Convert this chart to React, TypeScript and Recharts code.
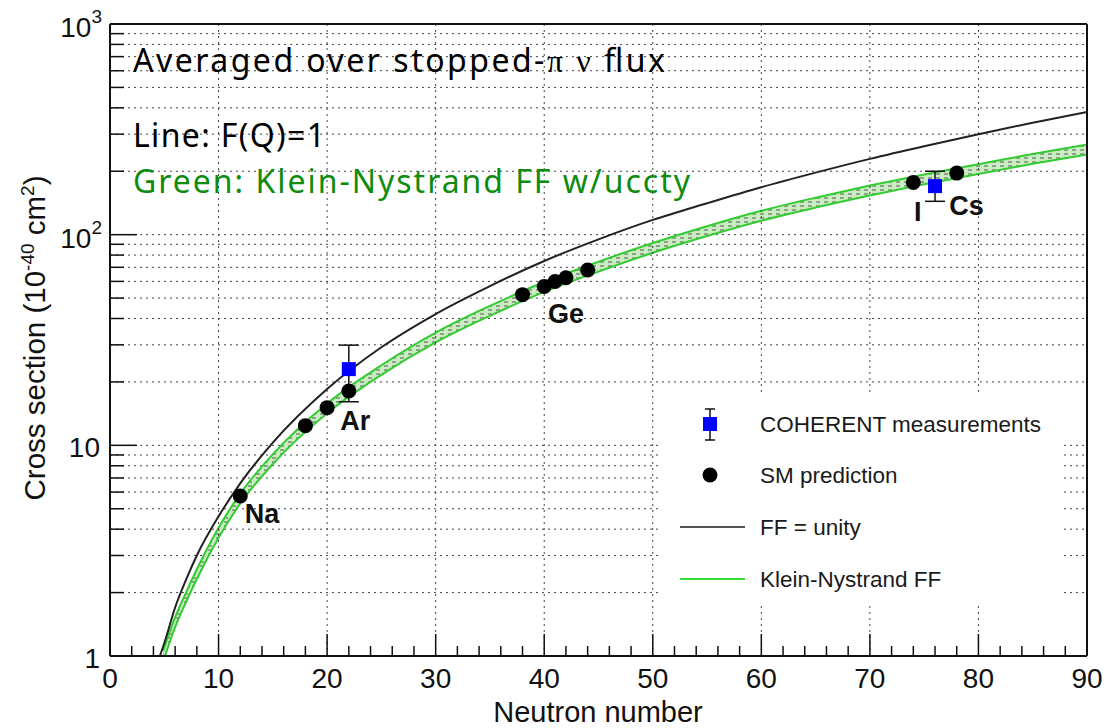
import React from 'react';
import {
  ComposedChart,
  Line,
  Area,
  Scatter,
  XAxis,
  YAxis,
  CartesianGrid,
  ReferenceLine,
  ReferenceDot,
  ErrorBar,
  Legend,
} from 'recharts';

// FF = unity curve (flux-averaged cross section, 10^-40 cm^2)
const N_UNITY = [4.6, 5, 6, 7, 8, 10, 12, 15, 20, 25, 30, 35, 40, 45, 50, 55, 60, 65, 70, 75, 80, 85, 90];
const XS_UNITY = [1.0, 1.15, 1.7, 2.3, 3.0, 4.6, 6.6, 10.3, 18.5, 29.2, 42, 57, 75, 95, 117.5, 141, 168, 197, 229, 263, 300, 340, 382];

// Klein-Nystrand FF band (lower / upper edge)
const N_KN = [4.9, 6, 7, 8, 10, 12, 15, 20, 25, 30, 35, 40, 45, 50, 55, 60, 65, 70, 75, 80, 85, 90];
const KN_LOW = [0.94, 1.37, 1.8, 2.32, 3.64, 5.3, 8.15, 14.2, 21.6, 30.8, 41.2, 53.5, 66.8, 82, 98.5, 116.5, 134.5, 153.5, 173.5, 194, 217, 240];
const KN_HIGH = [1.06, 1.53, 2.0, 2.58, 4.06, 5.9, 9.07, 15.8, 24.0, 34.3, 45.9, 59.6, 74.4, 91.3, 109.7, 129.8, 149.8, 171, 193, 216, 241.6, 268];

// SM predictions (Na, Ar isotopes, Ge isotopes, I, Cs)
const N_SM = [12, 18, 20, 22, 38, 40, 41, 42, 44, 74, 78];
const XS_SM = [5.75, 12.4, 15.1, 18.1, 51.9, 56.8, 59.9, 62.4, 68.0, 177, 196];

// COHERENT measurements (Ar, CsI)
const N_COH = [22, 76];
const XS_COH = [23.0, 170];
const COH_ERR_LO = [6.9, 26];
const COH_ERR_HI = [6.9, 30];

const X_MAJOR = [0, 10, 20, 30, 40, 50, 60, 70, 80, 90];
const X_TICKS = [0, 2, 4, 6, 8, 10, 12, 14, 16, 18, 20, 22, 24, 26, 28, 30, 32, 34, 36, 38, 40, 42, 44, 46, 48, 50, 52, 54, 56, 58, 60, 62, 64, 66, 68, 70, 72, 74, 76, 78, 80, 82, 84, 86, 88, 90];
const X_GRID = [10, 20, 30, 40, 50, 60, 70, 80];
const Y_MAJOR = [1, 10, 100, 1000];
const Y_MINOR_STEPS = [2, 3, 4, 5, 6, 7, 8, 9];
const Y_TICKS = [
  ...Y_MAJOR.slice(0, 3).flatMap((d) => [d, ...Y_MINOR_STEPS.map((m) => m * d)]),
  1000,
];

const LEGEND_LABELS = ['COHERENT measurements', 'SM prediction', 'FF = unity', 'Klein-Nystrand FF'];

const unityRows = N_UNITY.map((n, i) => ({ n, xs: XS_UNITY[i] }));
const bandRows = N_KN.map((n, i) => ({ n, band: [KN_LOW[i], KN_HIGH[i]] }));
const smRows = N_SM.map((n, i) => ({ n, xs: XS_SM[i] }));
const cohRows = N_COH.map((n, i) => ({ n, xs: XS_COH[i], err: [COH_ERR_LO[i], COH_ERR_HI[i]] }));

const AXIS_FONT = '"Liberation Sans", Arial, sans-serif';
const NOTE_FONT = '"Noto Sans", sans-serif';

const renderXTick = (props: any) => {
  const { x, y, payload } = props;
  const major = X_MAJOR.includes(payload.value);
  return (
    <g>
      <line x1={x} x2={x} y1={y} y2={y - (major ? 22 : 10)} stroke="#111" strokeWidth={1.5} />
      {major && (
        <text x={x} y={y + 32} textAnchor="middle" fontSize={28} fontFamily={AXIS_FONT} fill="#111">
          {payload.value}
        </text>
      )}
    </g>
  );
};

const renderYTick = (props: any) => {
  const { x, y, payload } = props;
  const v = payload.value;
  const major = Y_MAJOR.includes(v);
  let label = null;
  if (v === 1 || v === 10) {
    label = (
      <text x={x - 10} y={y + 12} textAnchor="end" fontSize={28} fontFamily={AXIS_FONT} fill="#111">
        {v}
      </text>
    );
  } else if (major) {
    label = (
      <text x={x - 8} y={y + 13} textAnchor="end" fontSize={28} fontFamily={AXIS_FONT} fill="#111">
        10<tspan dy={-14} fontSize={19}>{Math.round(Math.log10(v))}</tspan>
      </text>
    );
  }
  return (
    <g>
      <line x1={x} x2={x + (major ? 27 : 14)} y1={y} y2={y} stroke="#111" strokeWidth={1.5} />
      {label}
    </g>
  );
};

const renderLegend = () => (
  <svg width={401} height={210}>
    <line x1={48} x2={48} y1={14} y2={45} stroke="#111" strokeWidth={1.5} />
    <line x1={43} x2={53} y1={14} y2={14} stroke="#111" strokeWidth={1.5} />
    <line x1={43} x2={53} y1={45} y2={45} stroke="#111" strokeWidth={1.5} />
    <rect x={41} y={22} width={14} height={14} fill="#0000ff" />
    <circle cx={48} cy={80} r={7.5} fill="#000" />
    <line x1={18} x2={83} y1={132} y2={132} stroke="#555" strokeWidth={2} />
    <line x1={18} x2={83} y1={184} y2={184} stroke="#33dd33" strokeWidth={2} />
    {LEGEND_LABELS.map((t, i) => (
      <text key={t} x={98} y={[29, 80, 132, 184][i] + 8} fontSize={22.5} fontFamily={AXIS_FONT} fill="#1a1a1a">
        {t}
      </text>
    ))}
  </svg>
);

const elementLabel = (text: string) => (props: any) => (
  <text x={props.cx} y={props.cy} textAnchor="middle" fontSize={27} fontWeight="bold" fontFamily={AXIS_FONT} fill="#111">
    {text}
  </text>
);

export default function App() {
  return (
    <div style={{ position: 'absolute', left: 0, top: 0, width: 1112, height: 728, background: '#fff' }}>
      <ComposedChart width={1112} height={728} margin={{ top: 24, right: 25, bottom: 0, left: 0 }}>
        <defs>
          <pattern id="knHatch" patternUnits="userSpaceOnUse" width={8} height={4}>
            <rect width={8} height={4} fill="#c9ecc1" />
            <line x1={0} x2={4} y1={2} y2={2} stroke="#555" strokeWidth={1} />
          </pattern>
        </defs>
        <CartesianGrid vertical={false} stroke="#444" strokeDasharray="2 4" />
        {X_GRID.map((v) => (
          <ReferenceLine key={v} x={v} stroke="#444" strokeDasharray="2 4" />
        ))}
        <XAxis
          type="number"
          dataKey="n"
          domain={[0, 90]}
          ticks={X_TICKS}
          interval={0}
          allowDataOverflow
          height={72}
          tickSize={0}
          tickMargin={0}
          tickLine={false}
          tick={renderXTick}
          axisLine={{ stroke: '#111', strokeWidth: 2 }}
        />
        <YAxis
          type="number"
          scale="log"
          domain={[1, 1000]}
          ticks={Y_TICKS}
          interval={0}
          allowDataOverflow
          width={110}
          tickSize={0}
          tickMargin={0}
          tickLine={false}
          tick={renderYTick}
          axisLine={{ stroke: '#111', strokeWidth: 2 }}
        />
        <Area
          data={bandRows}
          dataKey="band"
          type="monotone"
          stroke="#33cc33"
          strokeWidth={2}
          fill="url(#knHatch)"
          fillOpacity={1}
          isAnimationActive={false}
        />
        <Line
          data={unityRows}
          dataKey="xs"
          type="monotone"
          stroke="#222"
          strokeWidth={2}
          dot={false}
          isAnimationActive={false}
        />
        <Scatter
          data={smRows}
          dataKey="xs"
          isAnimationActive={false}
          shape={(p: any) => <circle cx={p.cx} cy={p.cy} r={7.5} fill="#000" />}
        />
        <Scatter
          data={cohRows}
          dataKey="xs"
          isAnimationActive={false}
          shape={(p: any) => <rect x={p.cx - 7} y={p.cy - 7} width={14} height={14} fill="#0000ff" />}
        >
          <ErrorBar dataKey="err" direction="y" width={10} stroke="#111" strokeWidth={1.5} />
        </Scatter>
        <ReferenceDot x={14.0} y={4.3} r={0} shape={elementLabel('Na')} />
        <ReferenceDot x={22.6} y={11.8} r={0} shape={elementLabel('Ar')} />
        <ReferenceDot x={42.0} y={38.1} r={0} shape={elementLabel('Ge')} />
        <ReferenceDot x={74.4} y={116} r={0} shape={elementLabel('I')} />
        <ReferenceDot x={78.9} y={124} r={0} shape={elementLabel('Cs')} />
        <ReferenceLine y={1000} stroke="#111" strokeWidth={2} />
        <ReferenceLine x={90} stroke="#111" strokeWidth={2} />
        <Legend
          layout="horizontal"
          verticalAlign="middle"
          align="center"
          content={renderLegend}
          wrapperStyle={{ left: 662, top: 395, width: 401, height: 210, background: '#fff' }}
        />
      </ComposedChart>
      <svg
        width={1112}
        height={728}
        style={{ position: 'absolute', left: 0, top: 0, pointerEvents: 'none' }}
      >
        <text x={133} y={72} fontSize={32} fontFamily={NOTE_FONT} fill="#000" textLength={532} lengthAdjust="spacing">
          Averaged over stopped-<tspan fontFamily='"Liberation Serif", serif'>π</tspan>{' '}
          <tspan fontFamily='"Liberation Serif", serif'>ν</tspan> flux
        </text>
        <text x={133} y={147} fontSize={32} fontFamily={NOTE_FONT} fill="#000" textLength={192} lengthAdjust="spacing">
          Line: F(Q)=1
        </text>
        <text x={133} y={193} fontSize={32} fontFamily={NOTE_FONT} fill="#0e8c0e" textLength={557} lengthAdjust="spacing">
          Green: Klein-Nystrand FF w/uccty
        </text>
        <text
          transform="translate(45,338) rotate(-90)"
          textAnchor="middle"
          fontSize={29.5}
          fontFamily={AXIS_FONT}
          fill="#111"
        >
          Cross section (10<tspan dy={-11} fontSize={19}>-40</tspan>
          <tspan dy={11}> cm</tspan>
          <tspan dy={-11} fontSize={19}>2</tspan>
          <tspan dy={11}>)</tspan>
        </text>
        <text x={598} y={722} textAnchor="middle" fontSize={29} fontFamily={AXIS_FONT} fill="#111">
          Neutron number
        </text>
      </svg>
    </div>
  );
}
